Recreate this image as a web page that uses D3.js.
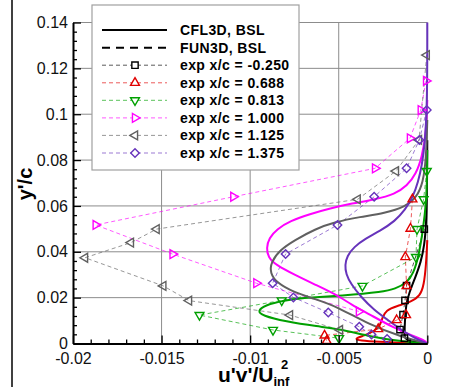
<!DOCTYPE html>
<meta charset="utf-8">
<script src="https://d3js.org/d3.v7.min.js"></script>
<style>
  body { margin: 0; background: #fff; }
  text { font-family: Arial, "Liberation Sans", Helvetica, sans-serif; }
</style>
<svg id="chart" width="471" height="387"></svg>
<script>

// tick values
var yMajor = [0, 0.02, 0.04, 0.06, 0.08, 0.1, 0.12, 0.14];
var xMajor = [-0.02, -0.015, -0.01, -0.005, 0];

// experiment points [u'v'/Uinf^2, y'/c]
var expM0250 = [[-0.00017,0.0499],[-0.00117,0.0253],[-0.00126,0.0188],[-0.00137,0.0126],[-0.00154,0.0061],[-0.00129,0.0023]];
var exp0688 = [[-0.00084,0.0629],[-0.00095,0.0501],[-0.00124,0.0377],[-0.00117,0.0251],[-0.0012,0.0124],[-0.00173,0.0102],[-0.00277,0.0063],[-0.0058,0.0035],[-0.00568,0.0011]];
var exp0813 = [[-0.00003,0.0752],[-0.00021,0.0629],[-0.00058,0.0499],[-0.00064,0.0377],[-0.00366,0.0251],[-0.00822,0.0188],[-0.01286,0.0124],[-0.00871,0.0059],[-0.00498,0.0023]];
var exp1000 = [[-0.00007,0.1145],[-0.00037,0.1018],[-0.00098,0.0895],[-0.00295,0.0764],[-0.01095,0.064],[-0.01872,0.0517],[-0.01438,0.039],[-0.00965,0.0263],[-0.00386,0.014]];
var exp1125 = [[-0.00003,0.1258],[-0.00047,0.0888],[-0.00177,0.0752],[-0.00393,0.0629],[-0.01528,0.0499],[-0.01673,0.044],[-0.01932,0.0374],[-0.0149,0.0251],[-0.01345,0.0187],[-0.00775,0.0124],[-0.00493,0.0059]];
var exp1375 = [[-0.00003,0.1018],[-0.00045,0.0888],[-0.00117,0.0764],[-0.003,0.064],[-0.00507,0.0517],[-0.008,0.039],[-0.00873,0.0263],[-0.00756,0.0201],[-0.00559,0.0135],[-0.00384,0.0073],[-0.00315,0.0039],[-0.00227,0.002]];

// CFL3D BSL profiles
var cflM0250 = [[0,0.0887],[-0.00002,0.0626],[-0.00007,0.0517],[-0.00016,0.043],[-0.00036,0.0355],[-0.00069,0.0286],[-0.00103,0.022],[-0.0012,0.0168],[-0.00126,0.0111],[-0.00129,0.0037],[-0.00126,0.0011],[0,0]];
var cfl0688 = [[0,0.0451],[-0.00007,0.0342],[-0.00019,0.0255],[-0.00041,0.0207],[-0.00092,0.0181],[-0.00171,0.0164],[-0.00233,0.0146],[-0.00256,0.0111],[-0.00267,0.0068],[-0.00352,0.0033],[-0.00465,0.0011],[0,0]];
var cfl0813 = [[0,0.0844],[-0.00002,0.0713],[-0.00005,0.0626],[-0.00024,0.0495],[-0.0005,0.0377],[-0.00078,0.0307],[-0.00115,0.0264],[-0.00182,0.0238],[-0.0025,0.0225],[-0.00476,0.0209],[-0.00719,0.0198],[-0.00803,0.0188],[-0.00916,0.0168],[-0.00959,0.0142],[-0.00933,0.0122],[-0.00803,0.0096],[-0.00617,0.0074],[-0.00493,0.0063],[-0.0034,0.0033],[-0.00154,0.0009],[0,0]];
var cfl1000 = [[0,0.1062],[-0.00007,0.0918],[-0.0003,0.0813],[-0.00064,0.0739],[-0.00115,0.0687],[-0.00182,0.0652],[-0.00295,0.0628],[-0.00425,0.0611],[-0.00549,0.0589],[-0.00662,0.0565],[-0.00775,0.0534],[-0.00848,0.0499],[-0.00894,0.046],[-0.00908,0.0416],[-0.00899,0.0377],[-0.00854,0.0342],[-0.00747,0.0299],[-0.00634,0.0257],[-0.00521,0.0216],[-0.00425,0.0168],[-0.00335,0.0131],[-0.00182,0.0065],[-0.00086,0.0035],[-0.00013,0.0013],[0,0]];
var cfl1125 = [[0,0.0975],[-0.00007,0.08],[-0.00024,0.0704],[-0.00058,0.0639],[-0.00126,0.0595],[-0.00239,0.0569],[-0.0038,0.0552],[-0.00521,0.053],[-0.00634,0.0499],[-0.00747,0.0451],[-0.00832,0.0408],[-0.00882,0.0355],[-0.00888,0.0307],[-0.00848,0.0264],[-0.00758,0.0225],[-0.00634,0.0194],[-0.00504,0.0159],[-0.00335,0.0085],[-0.00143,0.0028],[0,0]];
var cfl1375 = [[0,0.14],[0,0.1062],[-0.00013,0.0874],[-0.0003,0.0778],[-0.00052,0.0704],[-0.00081,0.0639],[-0.00126,0.0582],[-0.00182,0.0534],[-0.00267,0.0491],[-0.00352,0.0456],[-0.00414,0.0421],[-0.00453,0.0382],[-0.00465,0.0342],[-0.00459,0.0303],[-0.00431,0.0259],[-0.00374,0.0203],[-0.00301,0.0146],[-0.00222,0.0102],[-0.00146,0.0059],[-0.00069,0.0022],[0,0]];

var stations = [
  {label: "exp x/c = -0.250", exp: expM0250, cfl: cflM0250, color: "#000000", sym: "square"},
  {label: "exp x/c = 0.688",  exp: exp0688,  cfl: cfl0688,  color: "#e00000", sym: "up"},
  {label: "exp x/c = 0.813",  exp: exp0813,  cfl: cfl0813,  color: "#00a000", sym: "down"},
  {label: "exp x/c = 1.000",  exp: exp1000,  cfl: cfl1000,  color: "#ff00ff", sym: "right"},
  {label: "exp x/c = 1.125",  exp: exp1125,  cfl: cfl1125,  color: "#606060", sym: "left"},
  {label: "exp x/c = 1.375",  exp: exp1375,  cfl: cfl1375,  color: "#6633bb", sym: "diamond"}
];

var svg = d3.select("#chart");

var x = d3.scaleLinear().domain([-0.02, 0]).range([73, 427.3]);
var y = d3.scaleLinear().domain([0, 0.14]).range([343.5, 22.5]);

// left border line of the figure
svg.append("line").attr("x1", 12).attr("x2", 12).attr("y1", 0).attr("y2", 387)
  .attr("stroke", "#000").attr("stroke-width", 1.5);

// grid
svg.append("g").selectAll("line").data(yMajor.slice(1)).enter().append("line")
  .attr("x1", x(-0.02)).attr("x2", x(0))
  .attr("y1", d => y(d)).attr("y2", d => y(d))
  .attr("stroke", "#8c8c8c").attr("stroke-width", 1);
svg.append("g").selectAll("line").data(xMajor.slice(1)).enter().append("line")
  .attr("x1", d => x(d)).attr("x2", d => x(d))
  .attr("y1", y(0)).attr("y2", y(0.14))
  .attr("stroke", "#8c8c8c").attr("stroke-width", 1);

var expLine = d3.line().x(d => x(d[0])).y(d => y(d[1]));
var cflLine = d3.line().x(d => x(d[0])).y(d => y(d[1])).curve(d3.curveBasis);

function symbolPath(kind) {
  if (kind == "square") return {d: d3.symbol().type(d3.symbolSquare).size(40)(), rot: 0};
  if (kind == "diamond") return {d: d3.symbol().type(d3.symbolSquare).size(36)(), rot: 45};
  var rot = {up: 0, down: 180, right: 90, left: -90}[kind];
  return {d: d3.symbol().type(d3.symbolTriangle).size(34)(), rot: rot};
}

// dashed lines through the experiment points
stations.forEach(function (s) {
  svg.append("path").datum(s.exp).attr("d", expLine)
    .attr("fill", "none").attr("stroke", s.color).attr("stroke-width", 1)
    .attr("stroke-opacity", 0.65).attr("stroke-dasharray", "4,3");
});

// CFL3D solid curves
stations.forEach(function (s) {
  svg.append("path").datum(s.cfl).attr("d", cflLine)
    .attr("fill", "none").attr("stroke", s.color).attr("stroke-width", 2);
});

// markers
stations.forEach(function (s) {
  var sp = symbolPath(s.sym);
  svg.append("g").selectAll("path").data(s.exp).enter().append("path")
    .attr("d", sp.d)
    .attr("transform", d => "translate(" + x(d[0]) + "," + y(d[1]) + ") rotate(" + sp.rot + ")")
    .attr("fill", "none").attr("stroke", s.color).attr("stroke-width", 1.4);
});

// axes
var yMinor = d3.range(0, 0.1401, 0.004).filter(v => yMajor.every(m => Math.abs(m - v) > 1e-6));
var xMinor = d3.range(-0.02, 0.00001, 0.001).filter(v => xMajor.every(m => Math.abs(m - v) > 1e-6));

svg.append("g").attr("transform", "translate(" + x(-0.02) + ",0)")
  .call(d3.axisLeft(y).tickValues(yMajor).tickSize(-8).tickSizeOuter(0).tickPadding(5)
    .tickFormat(d => String(d)));
svg.append("g").attr("transform", "translate(" + x(-0.02) + ",0)")
  .call(d3.axisLeft(y).tickValues(yMinor).tickSize(-4).tickSizeOuter(0).tickFormat(""))
  .select(".domain").remove();

svg.append("g").attr("transform", "translate(0," + y(0) + ")")
  .call(d3.axisBottom(x).tickValues(xMajor).tickSize(-8).tickSizeOuter(0).tickPadding(9)
    .tickFormat(d => String(d)));
svg.append("g").attr("transform", "translate(0," + y(0) + ")")
  .call(d3.axisBottom(x).tickValues(xMinor).tickSize(-4).tickSizeOuter(0).tickFormat(""))
  .select(".domain").remove();

svg.selectAll(".domain").attr("stroke", "#000").attr("stroke-width", 2);
svg.selectAll(".tick line").attr("stroke", "#000").attr("stroke-width", 1.3);
svg.selectAll(".tick text").attr("font-size", 16).attr("fill", "#111")
  .style("font-family", "Arial, 'Liberation Sans', sans-serif");

// axis titles
svg.append("text")
  .attr("transform", "translate(32,184) rotate(-90)")
  .attr("text-anchor", "middle")
  .attr("font-size", 20).attr("font-weight", "bold")
  .text("y'/c");

var xt = svg.append("text").attr("x", 218).attr("y", 382)
  .attr("font-size", 21).attr("font-weight", "bold");
xt.append("tspan").text("u'v'/U");
xt.append("tspan").attr("font-size", 13).attr("dy", 4).text("inf");
svg.append("text").attr("x", 281).attr("y", 369)
  .attr("font-size", 13).attr("font-weight", "bold").text("2");

// legend
var lg = svg.append("g");
lg.append("rect").attr("x", 92).attr("y", 5).attr("width", 207).attr("height", 165)
  .attr("fill", "#fff").attr("stroke", "#a0a0a0").attr("stroke-width", 1.2);

var rowY = [30, 47.7, 65.2, 82.8, 100.3, 117.9, 135.4, 153];

function legendText(yy, str) {
  lg.append("text").attr("x", 180).attr("y", yy).attr("dy", "0.35em")
    .attr("font-size", 14).attr("font-weight", "bold").attr("letter-spacing", 0.4)
    .text(str);
}

lg.append("line").attr("x1", 102).attr("x2", 167).attr("y1", rowY[0]).attr("y2", rowY[0])
  .attr("stroke", "#000").attr("stroke-width", 2);
lg.append("line").attr("x1", 102).attr("x2", 167).attr("y1", rowY[1]).attr("y2", rowY[1])
  .attr("stroke", "#000").attr("stroke-width", 2).attr("stroke-dasharray", "8,6");
legendText(rowY[0], "CFL3D, BSL");
legendText(rowY[1], "FUN3D, BSL");

stations.forEach(function (s, i) {
  var yy = rowY[i + 2];
  var sp = symbolPath(s.sym);
  lg.append("line").attr("x1", 102).attr("x2", 167).attr("y1", yy).attr("y2", yy)
    .attr("stroke", s.color).attr("stroke-width", 1).attr("stroke-opacity", 0.65)
    .attr("stroke-dasharray", "4,3");
  lg.append("path").attr("d", sp.d)
    .attr("transform", "translate(135," + yy + ") rotate(" + sp.rot + ")")
    .attr("fill", "#fff").attr("stroke", s.color).attr("stroke-width", 1.4);
  legendText(yy, s.label);
});

</script>
